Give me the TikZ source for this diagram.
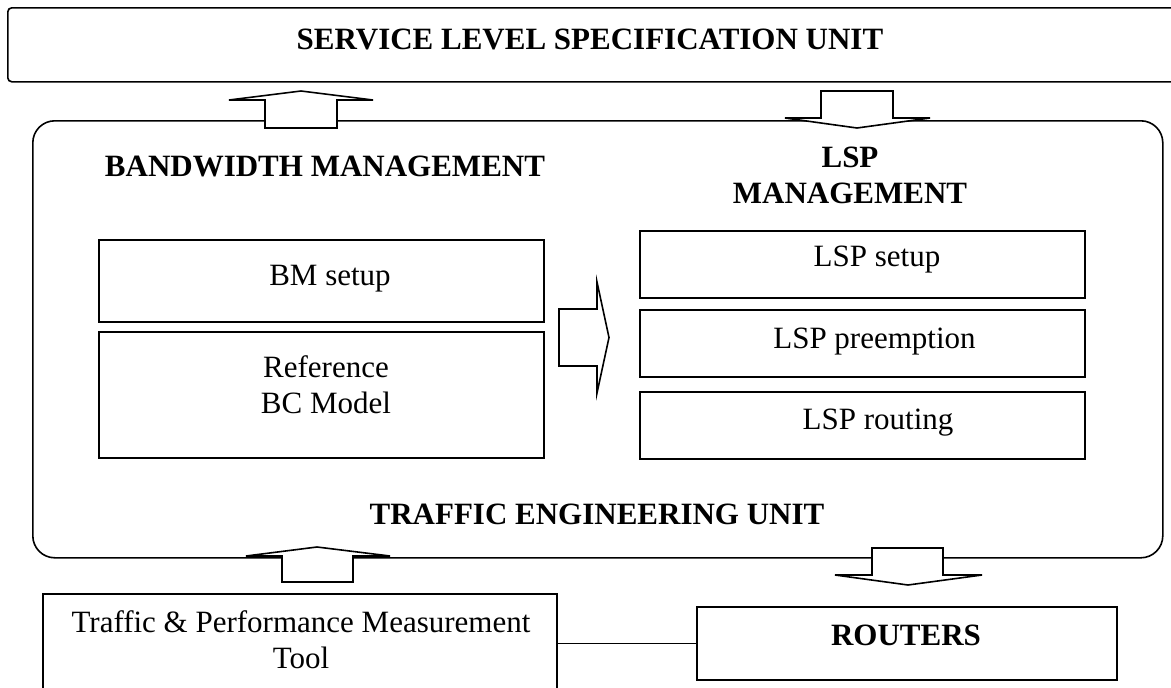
\documentclass[tikz,border=0pt]{standalone}
\usepackage{fontspec}
\setmainfont{Liberation Serif}
\begin{document}
\begin{tikzpicture}[x=1pt,y=-1pt,line width=1.6pt,
  every node/.style={font=\fontsize{31}{36}\selectfont},
  box/.style={draw,rectangle,inner sep=0pt,anchor=north west},
  txt/.style={inner sep=0pt,align=center},
  head/.style={txt,font=\fontsize{31}{36}\selectfont\bfseries},
  blockarrow/.style={draw,fill=white,line join=miter}]
\clip (0,0) rectangle (1171,688);
\fill[white] (0,0) rectangle (1171,688);

% service level unit (runs off the right edge)
\node[box,rounded corners=4pt,minimum width=1180pt,minimum height=74pt] (slsu) at (7,7) {};
\node[head] (slst) at (590,39) {SERVICE LEVEL SPECIFICATION UNIT};

% traffic engineering unit
\node[box,rounded corners=22pt,minimum width=1130pt,minimum height=437pt] (teu) at (32,120) {};
\node[head] (bwm) at (325,166.5) {BANDWIDTH MANAGEMENT};
\node[head] (lspm) at (850,175) {LSP\\MANAGEMENT};
\node[head] (teut) at (597,514) {TRAFFIC ENGINEERING UNIT};

% bandwidth management blocks
\node[box,minimum width=445pt,minimum height=82pt] (bm) at (98,239) {};
\node[txt] (bmt) at (330,279) {BM setup};
\node[box,minimum width=445pt,minimum height=126pt] (ref) at (98,331) {};
\node[txt] (reft) at (326,385) {Reference\\BC Model};

% LSP management blocks
\node[box,minimum width=445pt,minimum height=67pt] (lset) at (639,230) {};
\node[txt] (lsett) at (877,260) {LSP setup};
\node[box,minimum width=445pt,minimum height=67pt] (lpre) at (639,309) {};
\node[txt] (lpret) at (874.5,342) {LSP preemption};
\node[box,minimum width=445pt,minimum height=67pt] (lrou) at (639,391) {};
\node[txt] (lrout) at (878,422.5) {LSP routing};

% measurement tool and routers
\node[box,minimum width=514pt,minimum height=120pt] (tool) at (42,593) {};
\node[txt] (toolt) at (301,640) {Traffic \& Performance Measurement\\Tool};
\node[box,minimum width=420pt,minimum height=73pt] (rout) at (696,606) {};
\node[head] (routt) at (906,635.5) {ROUTERS};
\draw (rout.west -| tool.east) -- (rout.west);

% block arrows
\draw[blockarrow] (301,91) -- (373,100) -- (337,100) -- (337,128) -- (265,128) -- (265,100) -- (229,100) -- cycle;
\draw[blockarrow] (821,91) -- (893,91) -- (893,118) -- (930,118) -- (857,128) -- (785,118) -- (821,118) -- cycle;
\draw[blockarrow] (559,309) -- (597,309) -- (597,282) -- (609,337.5) -- (597,393) -- (597,366) -- (559,366) -- cycle;
\draw[blockarrow] (317,547) -- (390,556) -- (353,556) -- (353,582) -- (282,582) -- (282,556) -- (246,556) -- cycle;
\draw[blockarrow] (872,548) -- (943,548) -- (943,575) -- (982,575) -- (908,585) -- (835,575) -- (872,575) -- cycle;
\end{tikzpicture}
\end{document}
